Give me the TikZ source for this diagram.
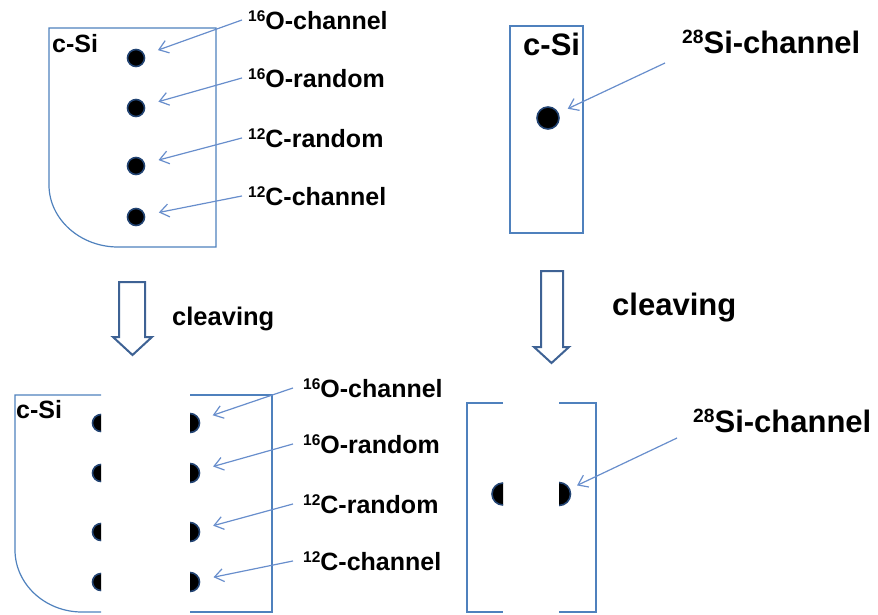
\documentclass[tikz,border=0pt]{standalone}
\usepackage{fontspec}
\setmainfont{Liberation Sans}
\usepackage{graphicx}
\usetikzlibrary{arrows.meta}
\definecolor{edge}{RGB}{79,129,189}
\definecolor{ptr}{RGB}{104,142,204}
\definecolor{bigarrow}{RGB}{62,98,148}
\definecolor{rim}{RGB}{35,68,115}
\newcommand\iso[1]{\raisebox{.3em}{\scalebox{.62}{#1}}}

\begin{document}
\begin{tikzpicture}[x=1pt,y=-1pt,
  wall/.style={draw=edge,line width=1.2pt,line join=miter},
  pointer/.style={draw=ptr,line width=1.2pt,
    -{Straight Barb[length=9pt,width=13pt]}},
  atom/.style={circle,fill=black,draw=rim,line width=1.6pt,inner sep=0pt,minimum size=#1},
  halfatom/.style={fill=black,draw=rim,line width=1.6pt},
  lab/.style={anchor=base west,inner sep=0pt,font=\bfseries\fontsize{25}{29}\selectfont},
  biglab/.style={anchor=base west,inner sep=0pt,font=\bfseries\fontsize{31}{36}\selectfont},
  hollow/.style={draw=bigarrow,line width=2pt,line join=miter,fill=white}]
\useasboundingbox (0,0) rectangle (878,614);

% ---------- top left: crystal with four implanted species ----------
\draw[wall] (49,28) -- (216,28) -- (216,247) -- (118,247)
  .. controls (80,247) and (49,219) .. (49,185) -- cycle;
\node[lab] (cs1) at (52,52) {c-Si};
\foreach \n/\y in {1/58,2/108,3/166,4/217}
  \node[atom=17pt] (d\n) at (136,\y) {};
\node[lab] (l1) at (248,29)  {\iso{16}O-channel};
\node[lab] (l2) at (248,87)  {\iso{16}O-random};
\node[lab] (l3) at (248,147) {\iso{12}C-random};
\node[lab] (l4) at (248,205) {\iso{12}C-channel};
\foreach \n in {1,...,4}
  \draw[pointer,shorten >=14pt] ([xshift=-6pt]l\n.west) -- (d\n);

% ---------- top right: crystal with silicon ----------
\draw[wall] (510,26) rectangle (583,233);
\node[biglab] (cs2) at (523,55) {c-Si};
\node[atom=22pt] (ds) at (548,118) {};
\node[biglab] (ls1) at (682,53) {\iso{28}Si-channel};
\coordinate (ts1) at (665,63);
\draw[pointer,shorten >=10pt] (ts1) -- (ds);

% ---------- cleaving arrows ----------
\draw[hollow] (119,282) -- (145,282) -- (145,337) -- (152,337) -- (132.5,355)
  -- (113,337) -- (119,337) -- cycle;
\node[lab,font=\bfseries\fontsize{25.5}{30}\selectfont] (cv1) at (172,325) {cleaving};
\draw[hollow] (541,271) -- (563,271) -- (563,347) -- (569,347) -- (551.5,363)
  -- (534,347) -- (541,347) -- cycle;
\node[biglab] (cv2) at (612,315) {cleaving};

% ---------- bottom left: cleaved crystal ----------
\draw[wall] (101,395) -- (15,395) -- (15,550)
  .. controls (15,584) and (45,612) .. (82,612) -- (101,612);
\draw[wall] (190,395) -- (272,395) -- (272,612) -- (190,612);
\node[lab] (cs3) at (16,418) {c-Si};
\foreach \n/\y in {1/423,2/473,3/532,4/582}{
  \coordinate (bl\n) at (101,\y);
  \coordinate (br\n) at (190,\y);
  \begin{scope}
    \clip (80,\y-14) rectangle (101,\y+14);
    \filldraw[halfatom] (bl\n) circle (8.5);
  \end{scope}
  \begin{scope}
    \clip (190,\y-14) rectangle (212,\y+14);
    \filldraw[halfatom] (br\n) circle (9.5);
  \end{scope}
}
\node[lab] (m1) at (303,397) {\iso{16}O-channel};
\node[lab] (m2) at (303,453) {\iso{16}O-random};
\node[lab] (m3) at (303,513) {\iso{12}C-random};
\node[lab] (m4) at (303,570) {\iso{12}C-channel};
\foreach \n in {1,...,4}
  \draw[pointer,shorten >=24pt] ([xshift=-10pt]m\n.west) -- (br\n);

% ---------- bottom right: cleaved crystal with silicon ----------
\draw[wall] (503,403) -- (467,403) -- (467,612) -- (503,612);
\draw[wall] (559,403) -- (596,403) -- (596,612) -- (559,612);
\coordinate (sl) at (503,494);
\coordinate (sr) at (559,494);
\begin{scope}
  \clip (485,480) rectangle (503,508);
  \filldraw[halfatom] (sl) circle (11);
\end{scope}
\begin{scope}
  \clip (559,480) rectangle (580,508);
  \filldraw[halfatom] (sr) circle (11.5);
\end{scope}
\node[biglab] (ls2) at (693,432) {\iso{28}Si-channel};
\coordinate (ts2) at (677,438);
\draw[pointer,shorten >=20pt] (ts2) -- (sr);
\end{tikzpicture}
\end{document}
